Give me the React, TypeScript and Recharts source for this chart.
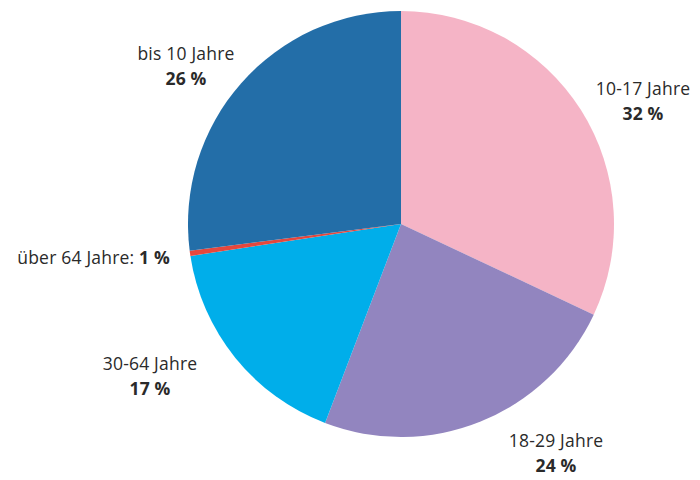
import React from "react";
import { PieChart, Pie, Cell } from "recharts";

const categories = ["10-17 Jahre", "18-29 Jahre", "30-64 Jahre", "über 64 Jahre", "bis 10 Jahre"];
const shares = [32.0, 23.8, 16.8, 0.4, 27.0];
const shareLabels = ["32 %", "24 %", "17 %", "1 %", "26 %"];
const colors = ["#F5B4C6", "#9285BF", "#00AEEA", "#E5473D", "#236EA8"];

// label placement relative to pie centre (layout only)
const labelOffsets: [number, number][] = [
  [242, -124],
  [155, 228],
  [-251, 151],
  [-231, 33],
  [-215, -159],
];

const data = categories.map((name, i) => ({ name, value: shares[i], label: shareLabels[i] }));

const FONT = "'Open Sans', 'Noto Sans', sans-serif";
const TEXT = "#2a2a2a";
const FS = 17.5;

const renderLabel = (props: any) => {
  const { cx, cy, index } = props;
  const [dx, dy] = labelOffsets[index];
  const x = cx + dx;
  const y = cy + dy;
  const d = data[index];
  if (index === 3) {
    return (
      <text x={x} y={y} textAnchor="end" dominantBaseline="central" fontFamily={FONT} fontSize={FS} fill={TEXT} letterSpacing={0.2}>
        <tspan>{d.name}: </tspan>
        <tspan fontWeight="bold">{d.label}</tspan>
      </text>
    );
  }
  return (
    <text x={x} y={y} textAnchor="middle" fontFamily={FONT} fontSize={FS} fill={TEXT} letterSpacing={0.2}>
      <tspan x={x} y={y - 12} dominantBaseline="central">{d.name}</tspan>
      <tspan x={x} y={y + 13} dominantBaseline="central" fontWeight="bold">{d.label}</tspan>
    </text>
  );
};

export default function App() {
  return (
    <div style={{ position: "absolute", left: 0, top: 0, background: "#fff" }}>
      <PieChart width={700} height={480} margin={{ top: 0, right: 0, bottom: 0, left: 0 }}>
        <Pie
          data={data}
          dataKey="value"
          nameKey="name"
          cx={401}
          cy={224}
          outerRadius={213}
          startAngle={90}
          endAngle={-270}
          stroke="none"
          label={renderLabel}
          labelLine={false}
          isAnimationActive={false}
        >
          {data.map((d, i) => (
            <Cell key={d.name} fill={colors[i]} />
          ))}
        </Pie>
      </PieChart>
    </div>
  );
}
